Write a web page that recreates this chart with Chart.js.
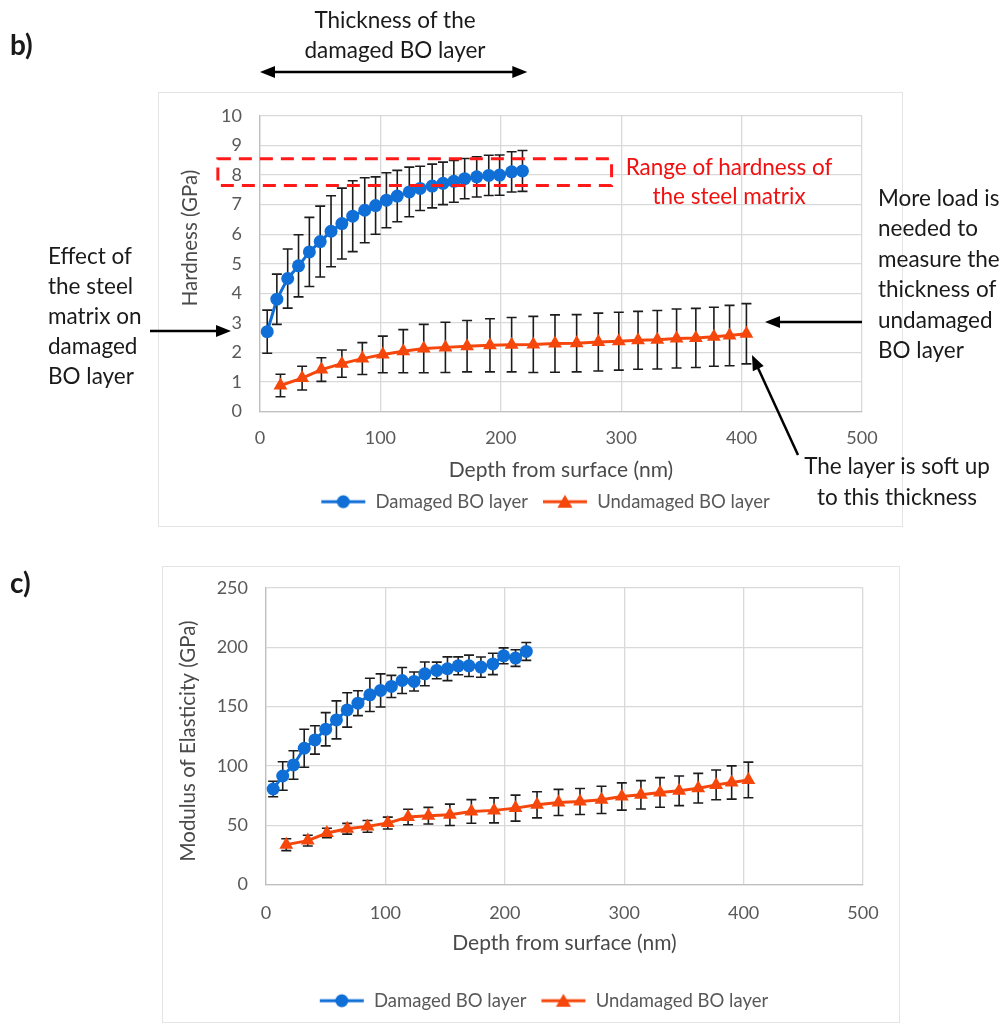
<!DOCTYPE html>
<html>
<head>
<meta charset="utf-8">
<script src="https://cdn.jsdelivr.net/npm/chart.js@4.4.1/dist/chart.umd.min.js"></script>
<style>
    body { margin: 0; background: #fff; }
    #page { position: relative; width: 1008px; height: 1026px; overflow: hidden; font-family: Lato, "Open Sans", sans-serif; color: #1a1a1a; }
    .frame { position: absolute; border: 1px solid #e4e4e4; }
    .wrap { position: absolute; left: 0; width: 1008px; }
    .note { position: absolute; font-size: 22.5px; line-height: 30px; white-space: nowrap; }
    .panel { position: absolute; left: 10px; font-size: 28px; font-weight: bold; }
</style>
</head>
<body>
<div id="page">
    <div class="frame" style="left:158px; top:92px; width:743px; height:433px;"></div>
    <div class="frame" style="left:162px; top:566px; width:736px; height:455px;"></div>

    <div class="wrap" style="top:0; height:523px;"><canvas id="hardnessChart"></canvas></div>
    <div class="wrap" style="top:545px; height:477px;"><canvas id="modulusChart"></canvas></div>

    <div class="panel" style="top:27px;">b)</div>
    <div class="panel" style="top:565px;">c)</div>

    <div class="note" style="left:285px; width:220px; top:5px; text-align:center;">Thickness of the<br>damaged BO layer</div>
    <div class="note" style="left:48px; top:241px;">Effect of<br>the steel<br>matrix on<br>damaged<br>BO layer</div>
    <div class="note" style="left:610px; width:238px; top:152px; text-align:center; color:#f01010; line-height:29px;">Range of hardness of<br>the steel matrix</div>
    <div class="note" style="left:878px; top:183px; line-height:30.4px;">More load is<br>needed to<br>measure the<br>thickness of<br>undamaged<br>BO layer</div>
    <div class="note" style="left:787px; width:220px; top:450px; text-align:center; line-height:31px;">The layer is soft up<br>to this thickness</div>
</div>

<script>
// Depth (nm) of each indent
const depthDamaged = [6, 14, 23, 32, 41, 50, 59, 68, 77, 87, 96, 105, 114, 124, 133, 143, 152, 161, 170, 180, 190, 199, 209, 218];
const depthUndamaged = [17, 35, 51, 68, 85, 102, 119, 136, 154, 172, 191, 209, 227, 245, 263, 281, 298, 314, 330, 346, 362, 377, 390, 404];

// Hardness (GPa) and its error bars
const hardnessDamaged = [2.7, 3.8, 4.5, 4.93, 5.4, 5.75, 6.1, 6.36, 6.61, 6.81, 6.97, 7.15, 7.29, 7.43, 7.55, 7.63, 7.72, 7.79, 7.88, 7.94, 7.99, 8.0, 8.11, 8.14];
const hardnessDamagedErr = [0.73, 0.85, 1.0, 1.05, 1.17, 1.2, 1.2, 1.2, 1.2, 1.1, 0.97, 0.93, 0.87, 0.84, 0.75, 0.74, 0.72, 0.71, 0.68, 0.68, 0.68, 0.68, 0.68, 0.69];
const hardnessUndamaged = [0.88, 1.13, 1.42, 1.62, 1.79, 1.93, 2.04, 2.13, 2.17, 2.21, 2.24, 2.26, 2.27, 2.3, 2.31, 2.35, 2.38, 2.41, 2.43, 2.47, 2.49, 2.53, 2.57, 2.63];
const hardnessUndamagedErr = [0.38, 0.4, 0.4, 0.46, 0.54, 0.62, 0.73, 0.82, 0.85, 0.87, 0.9, 0.92, 0.95, 0.97, 0.97, 0.98, 0.98, 0.98, 0.99, 1.0, 1.0, 1.0, 1.02, 1.02];

// Modulus of elasticity (GPa) and its error bars
const modulusDamaged = [80.5, 91.5, 100.8, 114.9, 121.9, 130.9, 138.8, 147.2, 152.9, 159.9, 163.6, 167, 172, 171.2, 177.6, 180.5, 181.9, 184.4, 184.4, 183.3, 186, 192.8, 190.9, 196.5];
const modulusDamagedErr = [6.5, 12, 12, 16, 12, 14, 16, 14.5, 10.5, 14, 14, 9.3, 11, 8, 10, 7, 10, 7.5, 9, 8.5, 9, 6.7, 7, 7.5];
const modulusUndamaged = [33.6, 37, 43.4, 47, 49, 51.8, 56.9, 58, 58.8, 61.6, 62.5, 64.4, 67.2, 69.2, 70, 71.4, 74.2, 75.6, 77.6, 79, 81.2, 84, 86, 88.2];
const modulusUndamagedErr = [5, 4.5, 4, 4.5, 5, 5, 6.5, 7, 9, 10, 10.5, 11, 11, 11, 11, 11.5, 11.5, 12, 12.5, 12.5, 12.5, 12.5, 14, 15];

// Axis ticks
const depthTicks = [0, 100, 200, 300, 400, 500];
const hardnessTicks = [0, 1, 2, 3, 4, 5, 6, 7, 8, 9, 10];
const modulusTicks = [0, 50, 100, 150, 200, 250];

const seriesNames = ['Damaged BO layer', 'Undamaged BO layer'];
const BLUE = '#0f6fd6';
const ORANGE = '#f5470c';
const FONT = 'Lato, "Open Sans", sans-serif';
const TICK_COLOR = '#595959';
const TITLE_COLOR = '#4a4a4a';

function toPoints(xs, ys) {
    return xs.map((x, i) => ({ x: x, y: ys[i] }));
}

// small line + marker picture for the legend
function legendIcon(color, style) {
    const c = document.createElement('canvas');
    c.width = 46;
    c.height = 18;
    const g = c.getContext('2d');
    g.strokeStyle = color;
    g.fillStyle = color;
    g.lineWidth = 3;
    g.beginPath();
    g.moveTo(1, 9);
    g.lineTo(45, 9);
    g.stroke();
    g.beginPath();
    if (style === 'triangle') {
        g.moveTo(23, 2);
        g.lineTo(30.5, 15);
        g.lineTo(15.5, 15);
        g.closePath();
    } else {
        g.arc(23, 9, 6.5, 0, Math.PI * 2);
    }
    g.fill();
    return c;
}

function drawArrow(ctx, x1, y1, x2, y2, both) {
    const head = (fx, fy, tx, ty) => {
        const a = Math.atan2(ty - fy, tx - fx);
        ctx.beginPath();
        ctx.moveTo(tx, ty);
        ctx.lineTo(tx - 15 * Math.cos(a) + 6 * Math.sin(a), ty - 15 * Math.sin(a) - 6 * Math.cos(a));
        ctx.lineTo(tx - 15 * Math.cos(a) - 6 * Math.sin(a), ty - 15 * Math.sin(a) + 6 * Math.cos(a));
        ctx.closePath();
        ctx.fill();
    };
    const a = Math.atan2(y2 - y1, x2 - x1);
    const sx = both ? x1 + 10 * Math.cos(a) : x1;
    const sy = both ? y1 + 10 * Math.sin(a) : y1;
    ctx.beginPath();
    ctx.moveTo(sx, sy);
    ctx.lineTo(x2 - 10 * Math.cos(a), y2 - 10 * Math.sin(a));
    ctx.stroke();
    head(x1, y1, x2, y2);
    if (both) head(x2, y2, x1, y1);
}

// vertical error bars with caps, under the lines and markers
const errorBarPlugin = {
    id: 'errorBars',
    beforeDatasetsDraw(chart) {
        const ctx = chart.ctx;
        const xs = chart.scales.x;
        const ys = chart.scales.y;
        ctx.save();
        ctx.strokeStyle = '#1c1c1c';
        ctx.lineWidth = 1.6;
        chart.data.datasets.forEach(ds => {
            (ds.errors || []).forEach((e, i) => {
                const p = ds.data[i];
                const px = xs.getPixelForValue(p.x);
                const top = ys.getPixelForValue(p.y + e);
                const bot = ys.getPixelForValue(p.y - e);
                ctx.beginPath();
                ctx.moveTo(px, top);
                ctx.lineTo(px, bot);
                ctx.moveTo(px - 5, top);
                ctx.lineTo(px + 5, top);
                ctx.moveTo(px - 5, bot);
                ctx.lineTo(px + 5, bot);
                ctx.stroke();
            });
        });
        ctx.restore();
    }
};

// rotated y axis title, placed where the original chart has it
function yTitlePlugin(text, cx, cy) {
    return {
        id: 'yTitle',
        afterDraw(chart) {
            const ctx = chart.ctx;
            ctx.save();
            ctx.translate(cx, cy);
            ctx.rotate(-Math.PI / 2);
            ctx.fillStyle = TITLE_COLOR;
            ctx.font = '20.5px ' + FONT;
            ctx.textAlign = 'center';
            ctx.textBaseline = 'middle';
            ctx.fillText(text, 0, 0);
            ctx.restore();
        }
    };
}

// the legend in the original sits a bit right of the plot centre
function legendShift(dx) {
    return {
        id: 'legendShift',
        afterLayout(chart) {
            chart.legend.left += dx;
            chart.legend.right += dx;
        }
    };
}

// arrows and the steel matrix band on the hardness chart
const hardnessNotes = {
    id: 'hardnessNotes',
    afterDraw(chart) {
        const ctx = chart.ctx;
        const xs = chart.scales.x;
        const ys = chart.scales.y;
        ctx.save();
        // range of hardness of the steel matrix
        const l = xs.getPixelForValue(-35);
        const r = xs.getPixelForValue(292);
        const t = ys.getPixelForValue(8.55);
        const b = ys.getPixelForValue(7.65);
        ctx.strokeStyle = '#ff1a1a';
        ctx.lineWidth = 3;
        ctx.setLineDash([13, 8]);
        ctx.strokeRect(l, t, r - l, b - t);
        ctx.setLineDash([]);

        ctx.strokeStyle = '#000';
        ctx.fillStyle = '#000';
        ctx.lineWidth = 2.5;
        drawArrow(ctx, xs.getPixelForValue(0), 72, xs.getPixelForValue(222), 72, true);
        drawArrow(ctx, 150, 331, 231, 331, false);
        drawArrow(ctx, 862, 322, 765, 322, false);
        drawArrow(ctx, 798, 455, 752, 355, false);
        ctx.restore();
    }
};

function makeChart(canvasId, opts) {
    const ticksFont = { family: FONT, size: 18 };
    return new Chart(document.getElementById(canvasId), {
        type: 'line',
        data: {
            datasets: [{
                label: seriesNames[0],
                data: toPoints(opts.depth[0], opts.values[0]),
                errors: opts.errors[0],
                borderColor: BLUE,
                backgroundColor: BLUE,
                borderWidth: 3,
                pointStyle: 'circle',
                pointRadius: 6.5,
                pointHoverRadius: 6.5,
                pointBorderWidth: 0,
                tension: 0
            }, {
                label: seriesNames[1],
                data: toPoints(opts.depth[1], opts.values[1]),
                errors: opts.errors[1],
                borderColor: ORANGE,
                backgroundColor: ORANGE,
                borderWidth: 3,
                pointStyle: 'triangle',
                pointRadius: 8,
                pointHoverRadius: 8,
                pointBorderWidth: 0,
                tension: 0
            }]
        },
        options: {
            responsive: true,
            maintainAspectRatio: false,
            animation: false,
            layout: { padding: opts.padding },
            scales: {
                x: {
                    type: 'linear',
                    min: depthTicks[0],
                    max: depthTicks[depthTicks.length - 1],
                    afterBuildTicks: s => { s.ticks = depthTicks.map(v => ({ value: v })); },
                    afterFit: s => { s.height = opts.xHeight; },
                    grid: { color: '#d9d9d9', lineWidth: 1.3, drawTicks: false },
                    border: { color: '#bfbfbf', width: 1.3 },
                    ticks: { color: TICK_COLOR, font: ticksFont, padding: opts.xTickPad },
                    title: {
                        display: true,
                        text: 'Depth from surface (nm)',
                        color: TITLE_COLOR,
                        font: { family: FONT, size: 21, lineHeight: 0.8 },
                        padding: { top: 0, bottom: opts.xTitlePad }
                    }
                },
                y: {
                    min: opts.yTicks[0],
                    max: opts.yTicks[opts.yTicks.length - 1],
                    afterBuildTicks: s => { s.ticks = opts.yTicks.map(v => ({ value: v })); },
                    afterFit: s => { s.width = opts.yWidth; },
                    grid: { color: '#d9d9d9', lineWidth: 1.3, drawTicks: false },
                    border: { color: '#bfbfbf', width: 1.3 },
                    ticks: { color: TICK_COLOR, font: ticksFont, padding: 18 }
                }
            },
            plugins: {
                legend: {
                    position: 'bottom',
                    labels: {
                        usePointStyle: true,
                        pointStyleWidth: 46,
                        padding: 14,
                        color: TICK_COLOR,
                        font: { family: FONT, size: 18.5 },
                        generateLabels: chart => chart.data.datasets.map((ds, i) => ({
                            text: ds.label,
                            pointStyle: legendIcon(ds.borderColor, ds.pointStyle),
                            fontColor: TICK_COLOR,
                            lineWidth: 0,
                            hidden: false,
                            datasetIndex: i
                        }))
                    }
                },
                tooltip: { enabled: false }
            }
        },
        plugins: opts.plugins
    });
}

makeChart('hardnessChart', {
    depth: [depthDamaged, depthUndamaged],
    values: [hardnessDamaged, hardnessUndamaged],
    errors: [hardnessDamagedErr, hardnessUndamagedErr],
    yTicks: hardnessTicks,
    padding: { left: 160, right: 146, top: 116, bottom: 2 },
    yWidth: 100,
    xHeight: 67,
    xTickPad: 16,
    xTitlePad: 0,
    plugins: [errorBarPlugin, hardnessNotes, yTitlePlugin('Hardness (GPa)', 190, 238), legendShift(34)]
});

makeChart('modulusChart', {
    depth: [depthDamaged, depthUndamaged],
    values: [modulusDamaged, modulusUndamaged],
    errors: [modulusDamagedErr, modulusUndamagedErr],
    yTicks: modulusTicks,
    padding: { left: 160, right: 145, top: 43, bottom: 2 },
    yWidth: 106,
    xHeight: 93,
    xTickPad: 18,
    xTitlePad: 26,
    plugins: [errorBarPlugin, yTitlePlugin('Modulus of Elasticity (GPa)', 188, 196), legendShift(32)]
});
</script>
</body>
</html>
